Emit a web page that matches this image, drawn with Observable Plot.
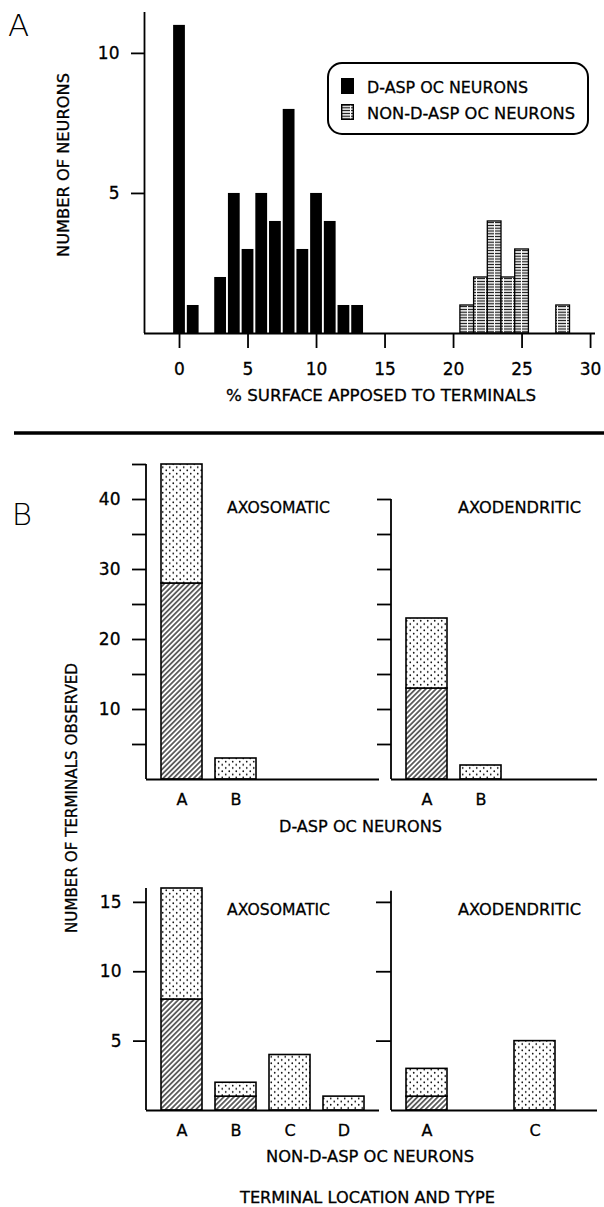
<!DOCTYPE html>
<html><head><meta charset="utf-8">
<script src="https://cdn.jsdelivr.net/npm/d3@7"></script>
<script src="https://cdn.jsdelivr.net/npm/@observablehq/plot@0.6"></script>
<style>
body{margin:0;background:#fff;}
#root{position:relative;width:604px;height:1207px;overflow:hidden;background:#fff;font-family:"DejaVu Sans",sans-serif;}
#root > svg{position:absolute;}
#root svg text{stroke:#000;stroke-width:0.3px;}
#overlay{left:0;top:0;pointer-events:none;}
#overlay text{font-family:"DejaVu Sans",sans-serif;fill:#000;}
</style></head><body>
<svg width="0" height="0" style="position:absolute">
<defs>
<pattern id="hatch" patternUnits="userSpaceOnUse" width="3.6" height="3.6" patternTransform="rotate(45)">
<rect width="3.6" height="3.6" fill="#fff"/><line x1="1.8" y1="-1" x2="1.8" y2="4.6" stroke="#000" stroke-width="1.15"/></pattern>
<pattern id="dots" patternUnits="userSpaceOnUse" width="7" height="6.4">
<rect width="7" height="6.4" fill="#fff"/><circle cx="1.75" cy="1.6" r="0.85" fill="#000"/><circle cx="5.25" cy="4.8" r="0.85" fill="#000"/></pattern>
<pattern id="hstripe" patternUnits="userSpaceOnUse" width="9" height="2.8">
<rect width="9" height="2.8" fill="#fff"/><rect x="0" y="0.8" width="8" height="1.2" fill="#111"/></pattern>
</defs></svg>
<div id="root"></div>
<script>
// ---------- Panel A data ----------
const dAspPct   = [0, 1, 3, 4, 5, 6, 7, 8, 9, 10, 11, 12, 13];
const dAspCount = [11, 1, 2, 5, 3, 5, 4, 8, 3, 5, 4, 1, 1];
const nonPct    = [21, 22, 23, 24, 25, 28];
const nonCount  = [1, 2, 4, 2, 3, 1];
const xTicksA = [0, 5, 10, 15, 20, 25, 30];
const yTicksA = [5, 10];

// ---------- Panel B data ----------
const somaDomain = ["A", "B", "C", "D"];
const dendDomain = ["A", "B", "C"];
const dAspSomaLoc = ["A", "B"];
const dAspSomaHatched  = [28, 0];
const dAspSomaStippled = [17, 3];
const dAspDendLoc = ["A", "B"];
const dAspDendHatched  = [13, 0];
const dAspDendStippled = [10, 2];
const nonSomaLoc = ["A", "B", "C", "D"];
const nonSomaHatched  = [8, 1, 0, 0];
const nonSomaStippled = [8, 1, 4, 1];
const nonDendLoc = ["A", "C"];
const nonDendHatched  = [1, 0];
const nonDendStippled = [2, 5];
const yTicksBTopSoma = [5, 10, 15, 20, 25, 30, 35, 40, 45];
const yLabelsBTop = [10, 20, 30, 40];
const yTicksBTopDend = [5, 10, 15, 20, 25, 30, 35, 40];
const yTicksBBottom = [5, 10, 15];

const root = document.getElementById("root");
const svgNS = "http://www.w3.org/2000/svg";
const FONT = {fontFamily: "DejaVu Sans", fontSize: "17px", color: "#000", background: "transparent", overflow: "visible"};
const AX = 1.8;

function place(svg, left, top) {
  svg.style.left = left + "px";
  svg.style.top = top + "px";
  root.appendChild(svg);
}

function axisLine(top) {
  return (index, scales, values, dims) => {
    const l = document.createElementNS(svgNS, "line");
    l.setAttribute("x1", dims.marginLeft);
    l.setAttribute("x2", dims.marginLeft);
    l.setAttribute("y1", scales.y(0));
    l.setAttribute("y2", scales.y(top));
    l.setAttribute("stroke", "#000");
    l.setAttribute("stroke-width", AX);
    return l;
  };
}

// ---------- Panel A ----------
const dRows = dAspPct.map((p, i) => ({pct: p, n: dAspCount[i]}));
const nRows = nonPct.map((p, i) => ({pct: p, n: nonCount[i]}));
const xMinA = -2.555;
const plotA = Plot.plot({
  width: 604, height: 420,
  marginLeft: 144, marginRight: 9, marginTop: 12, marginBottom: 87,
  x: {domain: [xMinA, 30.36]},
  y: {domain: [0, 11.46]},
  style: FONT,
  marks: [
    Plot.rect(dRows, {x1: d => d.pct - 0.43, x2: d => d.pct + 0.43, y1: d => 0, y2: "n", fill: "#000"}),
    Plot.rect(nRows, {x1: d => d.pct - 0.5, x2: d => d.pct + 0.5, y1: d => 0, y2: "n", fill: "url(#hstripe)", stroke: "#000", strokeWidth: 1.3}),
    Plot.ruleY([0], {strokeWidth: AX}),
    Plot.ruleX([xMinA], {strokeWidth: AX}),
    Plot.axisX({ticks: xTicksA, tickSize: 15, tickPadding: 14, strokeWidth: AX, label: null, fontSize: 17}),
    Plot.axisY({ticks: yTicksA, tickSize: 13, tickPadding: 12, strokeWidth: AX, label: null, fontSize: 17})
  ]
});
place(plotA, 0, 0);

// ---------- Panel B ----------
function rowsFor(locs, hatched, stippled) {
  const rows = [];
  locs.forEach((loc, i) => {
    if (hatched[i] > 0) rows.push({loc, type: "hatched", n: hatched[i]});
    if (stippled[i] > 0) rows.push({loc, type: "stippled", n: stippled[i]});
  });
  return rows;
}
const fillOf = t => t === "hatched" ? "url(#hatch)" : "url(#dots)";

function panelB(o) {
  return Plot.plot({
    width: o.width, height: o.height,
    marginLeft: o.ml, marginRight: o.mr, marginTop: o.mt, marginBottom: o.mb,
    x: {domain: o.domain, padding: 0.25, ...(o.range ? {range: o.range} : {})},
    y: {domain: [0, o.ymax]},
    color: {type: "identity"},
    style: FONT,
    marks: [
      Plot.barY(o.rows, {x: "loc", y: "n", fill: d => fillOf(d.type), stroke: "#000", strokeWidth: 1.6}),
      Plot.ruleY([0], {strokeWidth: AX}),
      axisLine(o.axisTop),
      Plot.axisX({ticks: o.xticks, tickSize: 0, tickPadding: 14, label: null, fontSize: 16}),
      Plot.axisY({ticks: o.yticks, tickSize: o.tickSize, tickPadding: 12, strokeWidth: AX, label: null, fontSize: 17,
        tickFormat: o.labels ? (d => o.labels.includes(d) ? String(d) : "") : (() => "")})
    ]
  });
}

const bTopSoma = panelB({rows: rowsFor(dAspSomaLoc, dAspSomaHatched, dAspSomaStippled), domain: somaDomain,
  xticks: dAspSomaLoc, width: 379, height: 380, ml: 146, mr: 0, mt: 24, mb: 41, ymax: 45, axisTop: 45,
  yticks: yTicksBTopSoma, labels: yLabelsBTop, tickSize: 14});
place(bTopSoma, 0, 440);

const bTopDend = panelB({rows: rowsFor(dAspDendLoc, dAspDendHatched, dAspDendStippled), domain: dendDomain,
  range: [14, 14 + 3.25 * 54.77],
  xticks: dAspDendLoc, width: 227, height: 380, ml: 14, mr: 7, mt: 24, mb: 41, ymax: 45, axisTop: 40,
  yticks: yTicksBTopDend, labels: null, tickSize: 14});
place(bTopDend, 377, 440);

const bBotSoma = panelB({rows: rowsFor(nonSomaLoc, nonSomaHatched, nonSomaStippled), domain: somaDomain,
  xticks: nonSomaLoc, width: 379, height: 290, ml: 146, mr: 0, mt: 28, mb: 40, ymax: 16, axisTop: 16,
  yticks: yTicksBBottom, labels: yTicksBBottom, tickSize: 13});
place(bBotSoma, 0, 860);

const bBotDend = panelB({rows: rowsFor(nonDendLoc, nonDendHatched, nonDendStippled), domain: dendDomain,
  range: [14, 14 + 3.25 * 54.77],
  xticks: nonDendLoc, width: 227, height: 290, ml: 14, mr: 7, mt: 28, mb: 40, ymax: 16, axisTop: 15.8,
  yticks: yTicksBBottom, labels: null, tickSize: 15});
place(bBotDend, 377, 860);

// ---------- Overlay: panel letters, titles, legend, separator ----------
const overlay = document.createElementNS(svgNS, "svg");
overlay.setAttribute("id", "overlay");
overlay.setAttribute("width", 604);
overlay.setAttribute("height", 1207);
overlay.innerHTML = `
<text x="18.5" y="36" font-size="31" font-weight="200" text-anchor="middle" style="stroke:none">A</text>
<text x="22" y="525" font-size="31" font-weight="200" text-anchor="middle" style="stroke:none">B</text>
<text transform="translate(69,165) rotate(-90)" font-size="16.5" text-anchor="middle" textLength="184" lengthAdjust="spacingAndGlyphs">NUMBER OF NEURONS</text>
<text x="226" y="401" font-size="16.5" textLength="310" lengthAdjust="spacingAndGlyphs">% SURFACE APPOSED TO TERMINALS</text>
<rect x="328" y="63" width="260" height="71" rx="14" ry="14" fill="#fff" stroke="#000" stroke-width="2"/>
<rect x="341" y="78" width="13" height="16" fill="#000"/>
<rect x="341.7" y="104.7" width="11.6" height="14.6" fill="url(#hstripe)" stroke="#000" stroke-width="1.4"/>
<text x="367" y="92.8" font-size="16.5" textLength="161" lengthAdjust="spacingAndGlyphs">D-ASP OC NEURONS</text>
<text x="367" y="118.8" font-size="16.5" textLength="208" lengthAdjust="spacingAndGlyphs">NON-D-ASP OC NEURONS</text>
<line x1="14" y1="433" x2="604" y2="433" stroke="#000" stroke-width="3.5"/>
<text x="227" y="513" font-size="16.5" textLength="103" lengthAdjust="spacingAndGlyphs">AXOSOMATIC</text>
<text x="458" y="513" font-size="16.5" textLength="123" lengthAdjust="spacingAndGlyphs">AXODENDRITIC</text>
<text x="227" y="915" font-size="16.5" textLength="103" lengthAdjust="spacingAndGlyphs">AXOSOMATIC</text>
<text x="458" y="915" font-size="16.5" textLength="123" lengthAdjust="spacingAndGlyphs">AXODENDRITIC</text>
<text x="279" y="832" font-size="16.5" textLength="163" lengthAdjust="spacingAndGlyphs">D-ASP OC NEURONS</text>
<text x="266" y="1162" font-size="16.5" textLength="208" lengthAdjust="spacingAndGlyphs">NON-D-ASP OC NEURONS</text>
<text x="240" y="1202.5" font-size="15.5" textLength="255" lengthAdjust="spacingAndGlyphs">TERMINAL LOCATION AND TYPE</text>
<text transform="translate(77,798) rotate(-90)" font-size="16.5" text-anchor="middle" textLength="270" lengthAdjust="spacingAndGlyphs">NUMBER OF TERMINALS OBSERVED</text>
`;
root.appendChild(overlay);
</script>
</body></html>
